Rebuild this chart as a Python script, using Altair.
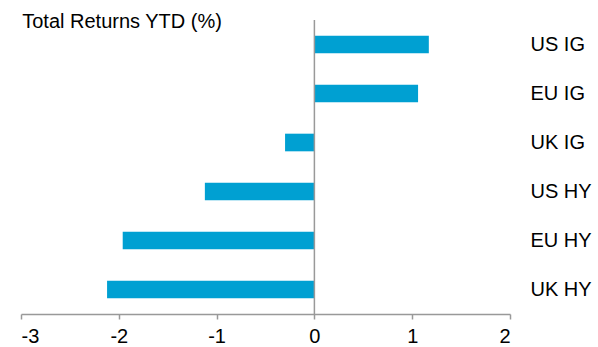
import altair as alt
import pandas as pd

categories = ["US IG", "EU IG", "UK IG", "US HY", "EU HY", "UK HY"]
returns = [1.17, 1.06, -0.30, -1.12, -1.96, -2.12]

df = pd.DataFrame({"cat": categories, "ret": returns})

FONT = "Liberation Sans"

x_scale = alt.Scale(domain=[-3, 2], nice=False, zero=False)

bars = alt.Chart(df).mark_bar(color="#00A0D2").encode(
    x=alt.X("ret:Q", scale=x_scale,
            axis=alt.Axis(values=[-3, -2, -1, 0, 1, 2], grid=False,
                          domainColor="#999999", domainWidth=1.5,
                          tickColor="#999999", tickWidth=1.5, tickSize=5,
                          labelFontSize=20, labelColor="#000000", labelFont=FONT,
                          labelPadding=7, labelExpr="toString(datum.value)",
                          title=None)),
    y=alt.Y("cat:N", sort=categories,
            scale=alt.Scale(paddingInner=0.64, paddingOuter=0.32),
            axis=alt.Axis(orient="right", ticks=False, domain=False,
                          labelFontSize=20, labelColor="#000000", labelFont=FONT,
                          labelPadding=20, title=None)),
)

zero = alt.Chart(pd.DataFrame({"z": [0]})).mark_rule(color="#999999", strokeWidth=1.5).encode(
    x=alt.X("z:Q", scale=x_scale)
)

chart = alt.layer(bars, zero).properties(
    width=489, height=294,
    title=alt.TitleParams("Total Returns YTD  (%)", anchor="start", fontSize=20,
                          fontWeight="normal", font=FONT, color="#000000",
                          offset=-13, dx=2),
    autosize=alt.AutoSizeParams(type="none"),
    padding={"left": 21, "top": 20, "right": 88, "bottom": 33},
).configure_view(stroke=None)

chart.save("out.html", embed_options={"renderer": "svg", "actions": False})
